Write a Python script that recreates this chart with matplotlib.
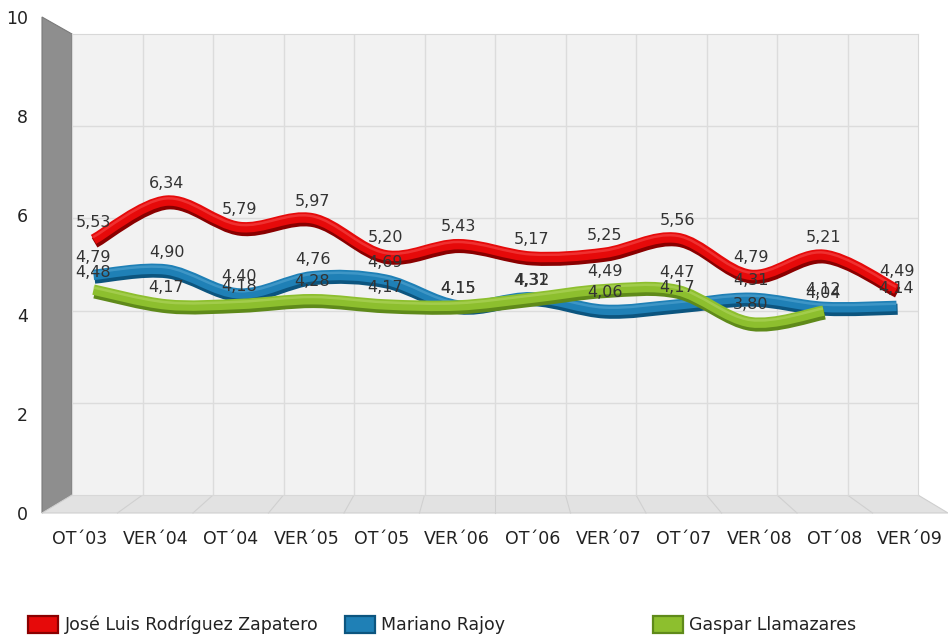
import numpy as np
import matplotlib
matplotlib.use('Agg')
import matplotlib.pyplot as plt
from matplotlib.path import Path
from matplotlib.patches import PathPatch, Polygon, Patch
from matplotlib.transforms import offset_copy

plt.rcParams['font.family'] = ['DejaVu Sans']

# Poll periods and leader ratings
periods = ['OT´03', 'VER´04', 'OT´04', 'VER´05', 'OT´05', 'VER´06',
           'OT´06', 'VER´07', 'OT´07', 'VER´08', 'OT´08', 'VER´09']
zapatero = [5.53, 6.34, 5.79, 5.97, 5.20, 5.43, 5.17, 5.25, 5.56, 4.79, 5.21, 4.49]
rajoy = [4.79, 4.90, 4.40, 4.76, 4.69, 4.15, 4.32, 4.06, 4.17, 4.31, 4.12, 4.14]
llamazares = [4.48, 4.17, 4.18, 4.28, 4.17, 4.15, 4.31, 4.49, 4.47, 3.80, 4.04]

names = ['José Luis Rodríguez Zapatero', 'Mariano Rajoy', 'Gaspar Llamazares']
series = [zapatero, rajoy, llamazares]
colors = ['#e60a0a', '#1f80b6', '#8dbf2e']
darks = ['#8a0000', '#0c557f', '#5f8a1a']
lights = ['#ff6a6a', '#6fb8e0', '#c4e27a']

W, H = 948, 639
fig = plt.figure(figsize=(W / 100, H / 100), dpi=100)


def box(x0, y0, x1, y1):
    # pixel box (top-left origin) -> figure fraction rect
    return [x0 / W, 1 - y1 / H, (x1 - x0) / W, (y1 - y0) / H]


# geometry of the pseudo-3D box (pixels)
fx0, fx1, fy0, fy1 = 42, 948, 17, 513      # front plane
bx0, bx1, by0, by1 = 72, 918, 34, 495      # back wall
n = len(periods)

# walls and floor
bg = fig.add_axes([0, 0, 1, 1], zorder=0)
bg.set_xlim(0, W)
bg.set_ylim(H, 0)
bg.axis('off')
bg.add_patch(Polygon([(fx0, fy0), (bx0, by0), (bx0, by1), (fx0, fy1)],
                     closed=True, facecolor='#8e8e8e', edgecolor='#7a7a7a', lw=0.8))
bg.add_patch(Polygon([(fx0, fy1), (bx0, by1), (bx1, by1), (fx1, fy1)],
                     closed=True, facecolor='#e2e2e2', edgecolor='#cfcfcf', lw=0.8))
for k in range(1, n):
    xb = bx0 + (bx1 - bx0) * k / n
    xf = fx0 + (fx1 - fx0) * k / n
    bg.plot([xb, xf], [by1, fy1], color='#d0d0d0', lw=0.8)

# back wall with its grid
back = fig.add_axes(box(bx0, by0, bx1, by1), zorder=1)
back.set_facecolor('#f2f2f2')
back.set_xlim(-0.5, n - 0.5)
back.set_ylim(0, 10)
back.set_xticks(np.arange(n - 1) + 0.5)
back.set_yticks([2, 4, 6, 8])
back.tick_params(length=0, labelbottom=False, labelleft=False)
back.grid(True, color='#dcdcdc', lw=1.0)
for s in back.spines.values():
    s.set_color('#d8d8d8')

# front plane carries the tick labels
front = fig.add_axes(box(fx0, fy0, fx1, fy1), zorder=2)
front.patch.set_visible(False)
front.set_xlim(-0.5, n - 0.5)
front.set_ylim(0, 10)
front.set_xticks(range(n))
front.set_xticklabels(periods, fontsize=12.5, color='#222222')
front.set_yticks([0, 2, 4, 6, 8, 10])
front.tick_params(length=0, labelsize=12.5, labelcolor='#222222')
front.tick_params(axis='x', pad=12)
front.tick_params(axis='y', pad=10)
for s in front.spines.values():
    s.set_visible(False)

# series are drawn at mid depth
mid = fig.add_axes(box((fx0 + bx0) / 2, (fy0 + by0) / 2, (fx1 + bx1) / 2, (fy1 + by1) / 2),
                   zorder=3)
mid.patch.set_visible(False)
mid.set_xlim(-0.5, n - 0.5)
mid.set_ylim(0, 10)
mid.axis('off')


def smooth_path(xs, ys):
    pts = np.column_stack([xs, ys]).astype(float)
    verts = [pts[0]]
    codes = [Path.MOVETO]
    for i in range(len(pts) - 1):
        p0 = pts[i - 1] if i > 0 else pts[i]
        p1, p2 = pts[i], pts[i + 1]
        p3 = pts[i + 2] if i + 2 < len(pts) else pts[i + 1]
        verts += [p1 + (p2 - p0) / 6, p2 - (p3 - p1) / 6, p2]
        codes += [Path.CURVE4] * 3
    return Path(verts, codes)


for vals, c, dk, lt in zip(series, colors, darks, lights):
    xs = np.arange(len(vals))
    path = smooth_path(xs, vals)
    shadow = offset_copy(mid.transData, fig=fig, x=0.8, y=-2.4, units='points')
    mid.add_patch(PathPatch(path, fill=False, edgecolor=dk, lw=8,
                            capstyle='butt', transform=shadow))
    mid.add_patch(PathPatch(path, fill=False, edgecolor=c, lw=7.5,
                            capstyle='butt'))
    shine = offset_copy(mid.transData, fig=fig, x=-0.3, y=1.6, units='points')
    mid.add_patch(PathPatch(path, fill=False, edgecolor=lt, lw=1.8, alpha=0.4,
                            capstyle='butt', transform=shine))
    for x, v in zip(xs, vals):
        mid.annotate(f'{v:.2f}'.replace('.', ','), (x, v), xytext=(0, 7),
                     textcoords='offset points', ha='center', va='bottom',
                     fontsize=11.5, color='#333333', zorder=5)

# legend entries spaced along the bottom
for name, c, dk, x in zip(names, colors, darks, [28, 345, 653]):
    fig.legend(handles=[Patch(facecolor=c, edgecolor=dk, lw=1.6)], labels=[name],
               loc='center left', bbox_to_anchor=(x / W, 1 - 625 / H),
               frameon=False, fontsize=12.5, handlelength=1.75, handleheight=1.1,
               handletextpad=0.35, borderpad=0, borderaxespad=0,
               labelcolor='#222222')

fig.savefig('out.png', dpi=100)
